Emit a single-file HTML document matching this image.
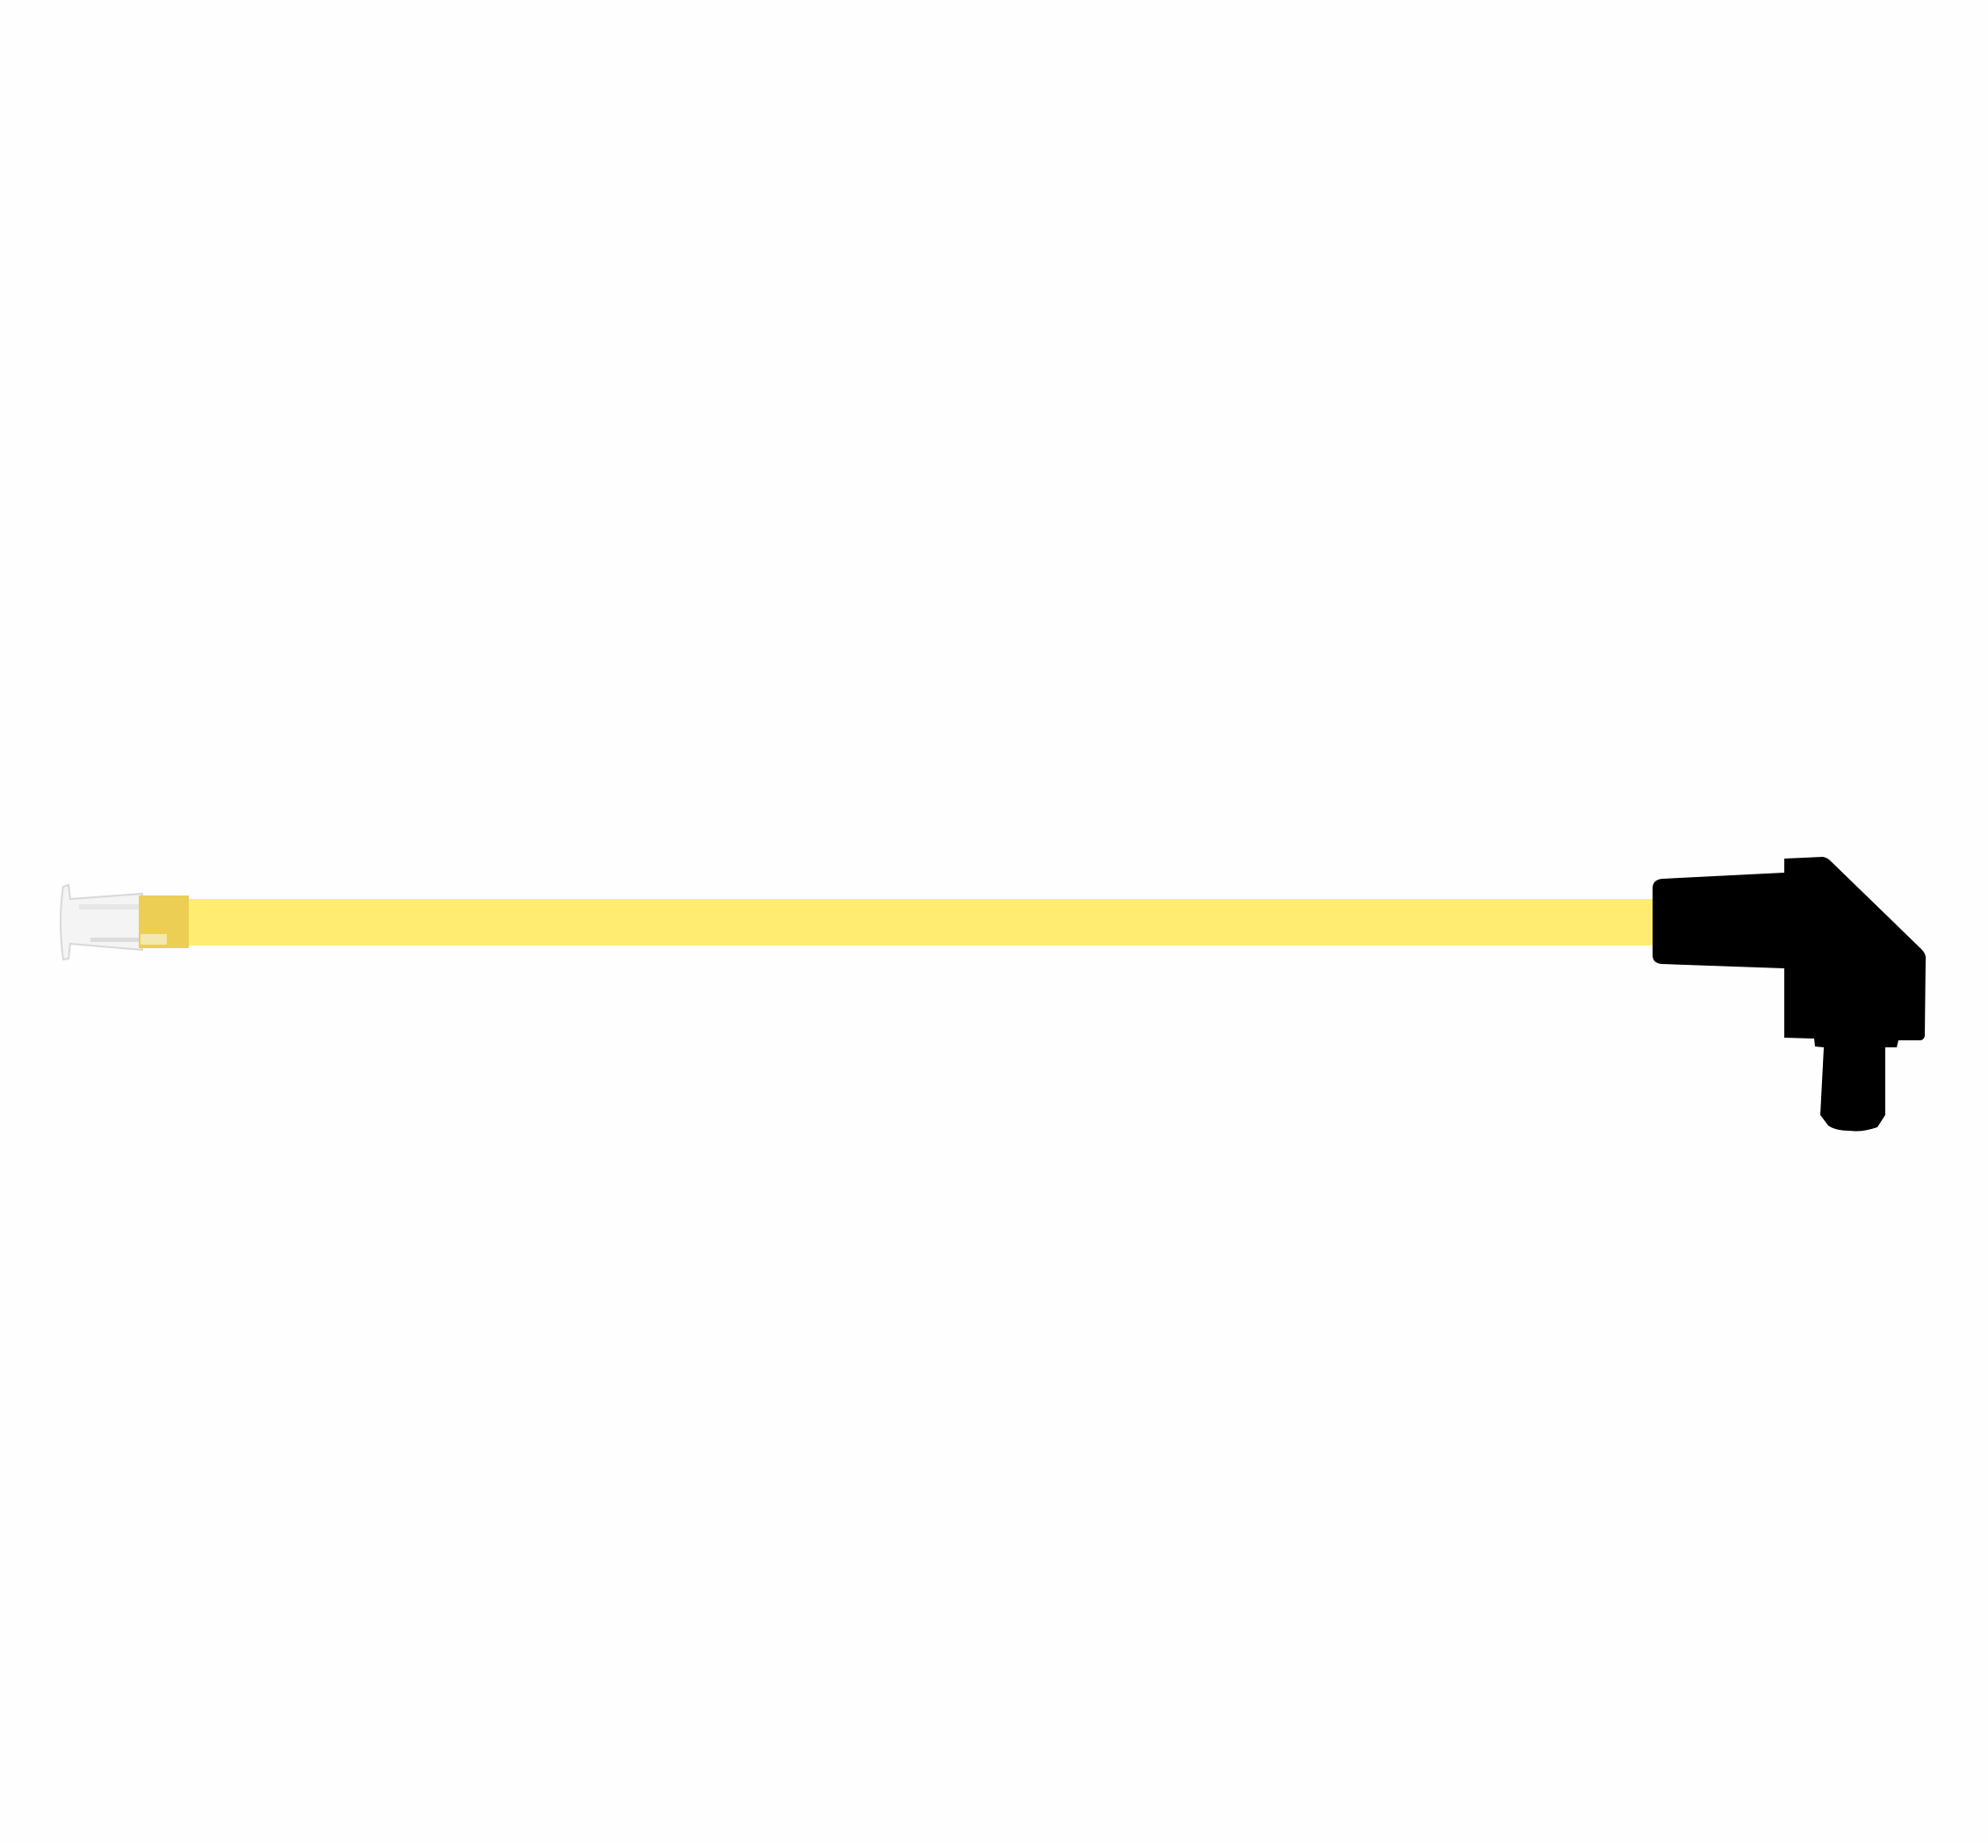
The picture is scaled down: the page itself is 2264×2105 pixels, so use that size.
<!DOCTYPE html>
<html><head><style>html,body{margin:0;padding:0;background:#fff}</style></head>
<body>
<svg width="2264" height="2100" viewBox="0 0 2264 2100" xmlns="http://www.w3.org/2000/svg">
<rect width="2264" height="2100" fill="#fefefe"/>
<rect x="214" y="1024" width="1672" height="53" fill="#ffec70"/>
<!-- left clear connector -->
<path d="M72 1010 Q66 1050 72 1093 L78 1092 L80 1075 L162 1082 L162 1018 L80 1024 L78 1008 Z" fill="#f4f4f4" stroke="#d8d8d8" stroke-width="2"/>
<rect x="90" y="1030" width="68" height="6" fill="#e6e6e6"/>
<rect x="103" y="1068" width="55" height="5" fill="#dcdcdc"/>
<rect x="158" y="1020" width="57" height="60" fill="#ecce55"/>
<rect x="160" y="1064" width="30" height="12" fill="#f3e9b0"/>
<!-- black connector -->
<path d="M1882 1012 Q1882 1002 1893 1001 L2032 994 L2032 978 L2076 976 Q2081 977 2084 980 L2188 1081 Q2194 1087 2193 1093 L2192 1180 Q2191 1185 2186 1185 L2162 1185 L2160 1193 L2147 1193 L2147 1270 L2138 1284 Q2120 1290 2107 1288 Q2090 1288 2082 1282 L2073 1270 L2077 1193 L2067 1192 L2066 1183 L2032 1182 L2032 1103 L1892 1098 Q1882 1097 1882 1088 Z" fill="#000"/>
</svg>
</body></html>
